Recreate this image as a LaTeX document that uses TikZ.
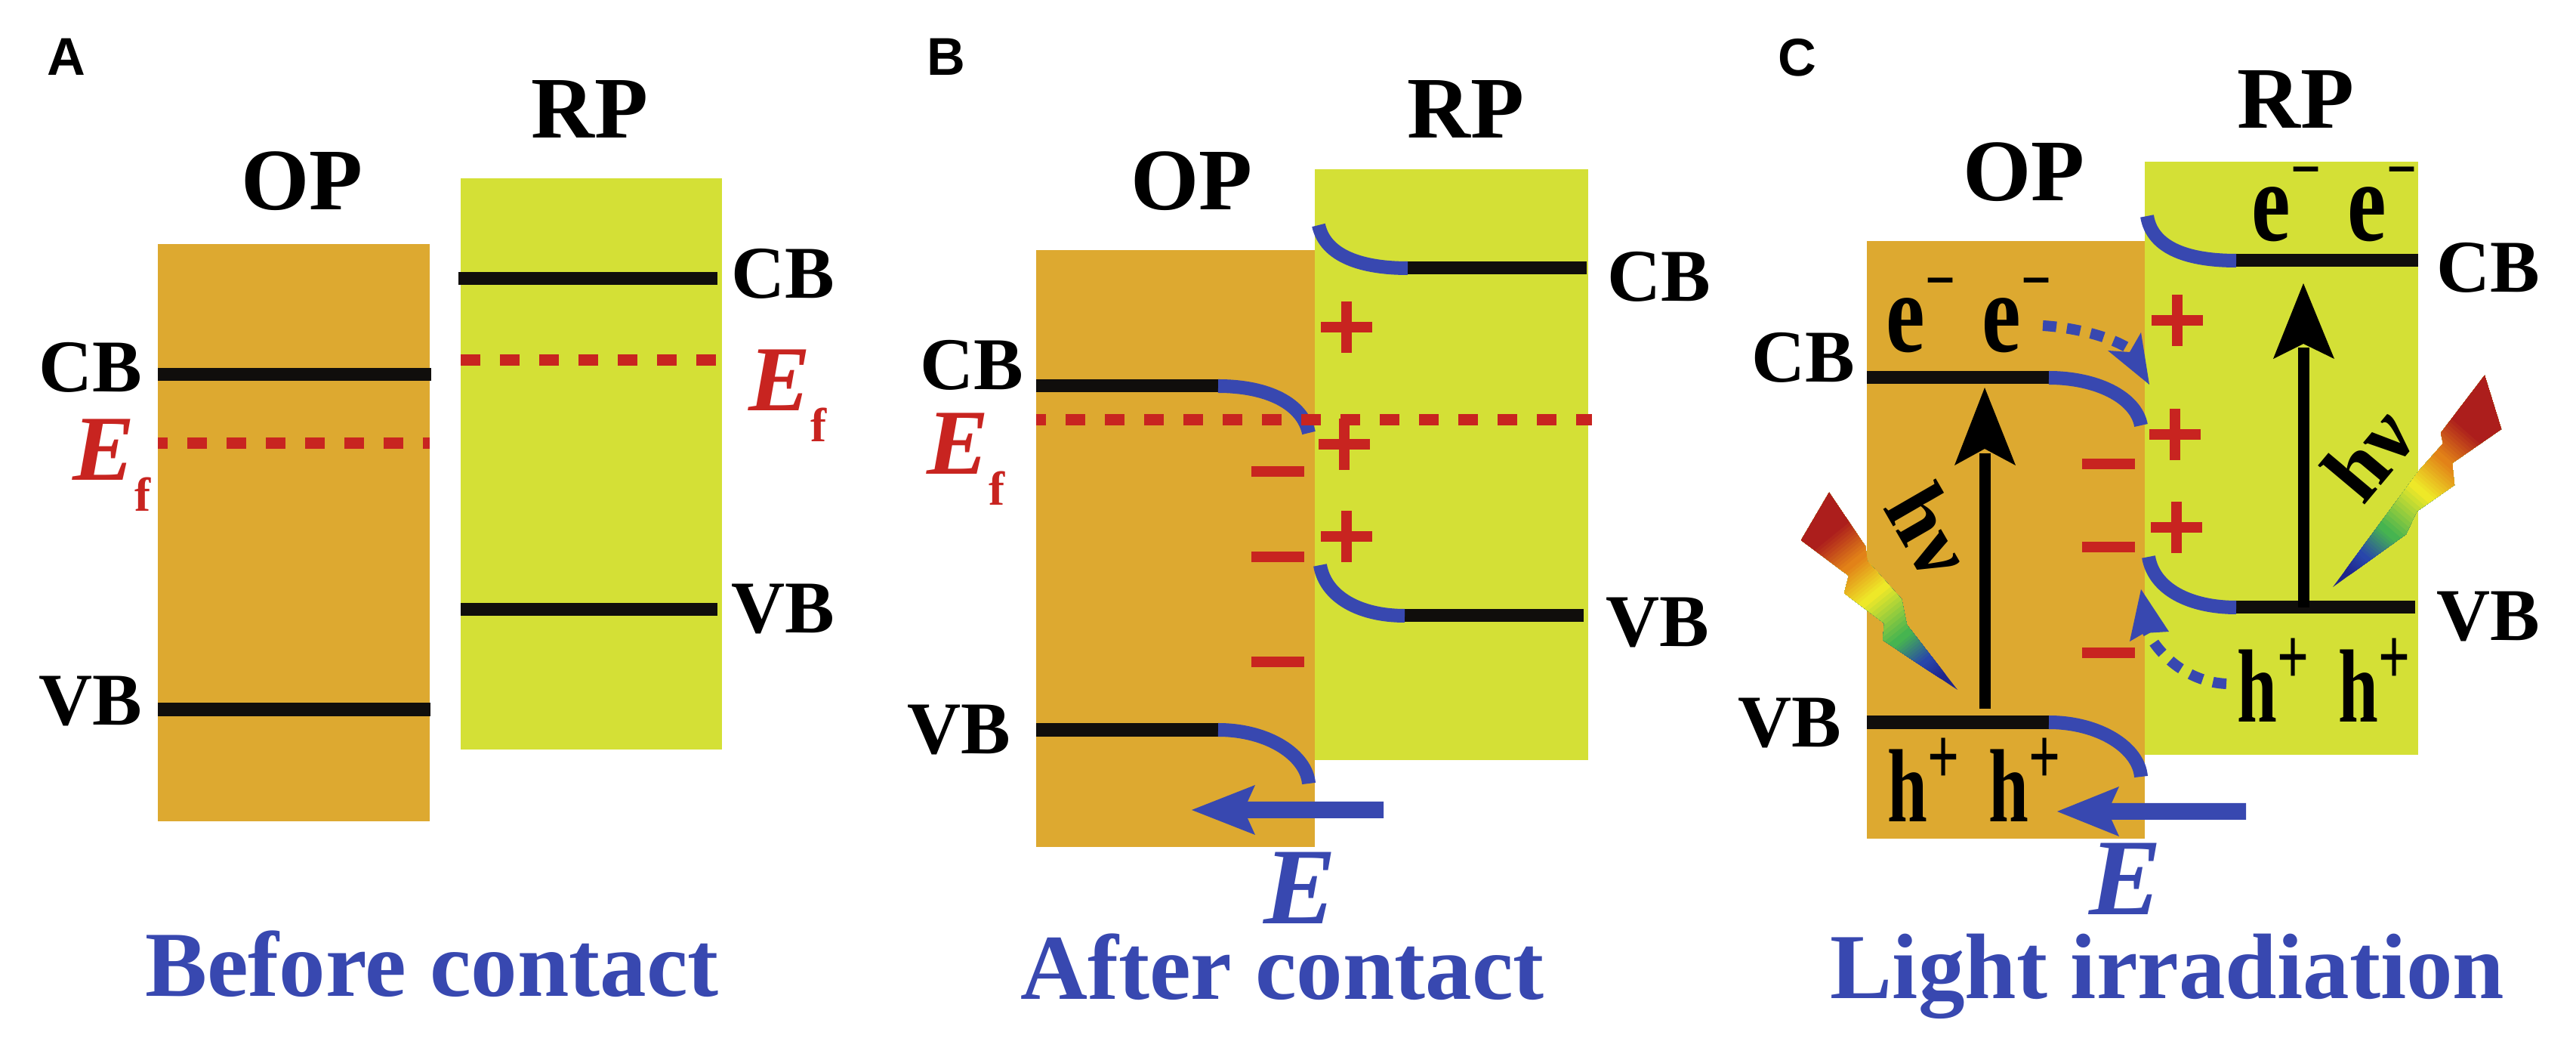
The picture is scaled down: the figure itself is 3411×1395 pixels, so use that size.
\documentclass[tikz,border=0pt]{standalone}
\usepackage{fontspec}
\setmainfont{Liberation Serif}
\newfontfamily\panelfont{Liberation Sans}
\definecolor{opc}{RGB}{221,169,48}
\definecolor{rpc}{RGB}{212,224,54}
\definecolor{bandblue}{RGB}{56,72,176}
\definecolor{chargered}{RGB}{200,36,32}
\definecolor{nearblack}{RGB}{16,14,12}
\definecolor{bnavy}{RGB}{30,36,140}
\definecolor{bblue}{RGB}{40,70,170}
\definecolor{bgreen}{RGB}{70,180,80}
\definecolor{byellow}{RGB}{238,232,40}
\definecolor{borange}{RGB}{226,130,24}
\definecolor{bred}{RGB}{172,30,28}
\newcommand{\fs}[1]{\fontsize{#1}{#1}\selectfont}
\newcommand{\Ef}{\fs{35}\textit{E}\raisebox{-11.5pt}{\fs{18}f}}
\newcommand{\eminus}{e\raisebox{14pt}{\fs{20}−}}
\newcommand{\hplus}{h\raisebox{10pt}{\fs{21}+}}
\tikzset{
  x=0.01cm,y=-0.01cm,
  every node/.style={inner sep=0pt,outer sep=0pt,anchor=base,font=\bfseries},
  oprect/.style={fill=opc,draw=none},
  rprect/.style={fill=rpc,draw=none},
  bandlevel/.style={draw=nearblack,line width=0.17cm},
  bandcurve/.style={draw=bandblue,line width=0.18cm},
  fermi/.style={draw=chargered,line width=0.15cm,dash pattern=on 0.26cm off 0.26cm},
  titletext/.style={font=\bfseries\fs{33},text=black},
  bandtext/.style={font=\bfseries\fs{28},text=black},
  fermilabel/.style={text=chargered,anchor=base west},
  captiontext/.style={font=\bfseries\fs{35},text=bandblue},
  fieldlabel/.style={font=\bfseries\itshape\fs{41},text=bandblue},
  paneltext/.style={font=\panelfont\bfseries\fs{20},text=black},
  carrierE/.style={font=\bfseries\fs{33},yscale=1.3,text=black},
  carrierH/.style={font=\bfseries\fs{27},yscale=1.45,text=black},
  hnu/.style={font=\bfseries\fs{33},text=black,anchor=center},
  chargebar/.style={fill=chargered,draw=none},
  fieldarrow/.style={fill=bandblue,draw=none},
  photonline/.style={draw=black,line width=0.15cm},
  photontip/.style={fill=black,draw=none},
  dotflow/.style={draw=bandblue,line width=0.14cm,dash pattern=on 0.18cm off 0.14cm},
}
\newcommand{\mbar}[2]{\fill[chargebar] (#1-35,#2-7) rectangle (#1+35,#2+7);}
\newcommand{\pbar}[2]{\fill[chargebar] (#1-34,#2-7) rectangle (#1+34,#2+7);\fill[chargebar] (#1-7,#2-34) rectangle (#1+7,#2+34);}
% one colour segment of a light bolt: colour A, colour B, start and end (fractions), bolt length in cm
\newcommand{\boltseg}[5]{%
  \foreach \k in {0,...,11}{%
    \pgfmathsetmacro\sa{(#3+(#4-#3)*\k/12)*#5}%
    \pgfmathsetmacro\mixv{100-100*\k/11}%
    \fill[color={#1!\mixv!#2}] (-2cm,\sa cm) rectangle (2cm,#5 cm+0.5cm);
  }}
\newcommand{\boltfill}[1]{%
  \fill[bnavy] (-2cm,-0.5cm) rectangle (2cm,#1 cm+0.5cm);
  \boltseg{bnavy}{bblue}{0.08}{0.18}{#1}
  \boltseg{bblue}{bgreen}{0.18}{0.32}{#1}
  \boltseg{bgreen}{byellow}{0.32}{0.54}{#1}
  \boltseg{byellow}{borange}{0.54}{0.70}{#1}
  \boltseg{borange}{bred}{0.70}{0.86}{#1}
}
\begin{document}
\begin{tikzpicture}
\useasboundingbox (0,0) rectangle (3411,1395);
\fill[white] (0,0) rectangle (3411,1395);

% ---------- Panel A
\fill[oprect] (209,323) rectangle (569,1087);
\fill[rprect] (610,236) rectangle (956,992);
\draw[bandlevel] (209,496) -- (571,496);
\draw[bandlevel] (209,939) -- (570,939);
\draw[bandlevel] (607,369) -- (950,369);
\draw[bandlevel] (610,807) -- (950,807);
\draw[fermi,dash phase=0.13cm] (209,587) -- (569,587);
\draw[fermi] (610,477) -- (952,477);
\node[paneltext] (pa) at (88,100) {A};
\node[titletext] (aop) at (400,278) {OP};
\node[titletext] (arp) at (781,183) {RP};
\node[bandtext] (acbl) at (120,519) {CB};
\node[bandtext] (avbl) at (120,960) {VB};
\node[bandtext] (acbr) at (1037,395) {CB};
\node[bandtext] (avbr) at (1037,838) {VB};
\node[fermilabel] (aefl) at (96,636) {\Ef};
\node[fermilabel] (aefr) at (991,544) {\Ef};
\node[captiontext] (acap) at (572,1319) {Before contact};

% ---------- Panel B
\fill[oprect] (1372,331) rectangle (1741,1121);
\fill[rprect] (1741,224) rectangle (2103,1006);
\draw[bandlevel] (1372,511) -- (1613,511);
\draw[bandcurve] (1613,511) .. controls (1680,511) and (1725,535) .. (1733,573);
\draw[bandlevel] (1864,355) -- (2101,355);
\draw[bandcurve] (1864,355) .. controls (1805,355) and (1755,340) .. (1746,298);
\draw[bandlevel] (1372,966) -- (1613,966);
\draw[bandcurve] (1613,966) .. controls (1680,966) and (1730,1000) .. (1733,1037);
\draw[bandlevel] (1860,815) -- (2097,815);
\draw[bandcurve] (1860,815) .. controls (1800,815) and (1755,790) .. (1748,748);
\draw[fermi,dash phase=0.13cm] (1372,556) -- (2108,556);
\pbar{1783}{433}
\pbar{1780}{588}
\pbar{1783}{710}
\mbar{1692}{624}
\mbar{1692}{737}
\mbar{1692}{876}
\fill[fieldarrow] (1578,1072) -- (1662,1039) -- (1652,1061) -- (1832,1061) -- (1832,1083) -- (1652,1083) -- (1662,1105) -- cycle;
\node[paneltext] (pb) at (1253,100) {B};
\node[titletext] (bop) at (1578,278) {OP};
\node[titletext] (brp) at (1941,183) {RP};
\node[bandtext] (bcbl) at (1287,516) {CB};
\node[bandtext] (bvbl) at (1270,998) {VB};
\node[bandtext] (bcbr) at (2197,399) {CB};
\node[bandtext] (bvbr) at (2195,856) {VB};
\node[fermilabel] (befl) at (1227,628) {\Ef};
\node[fieldlabel] (bfield) at (1722,1223) {E};
\node[captiontext] (bcap) at (1698,1323) {After contact};

% ---------- Panel C
\fill[oprect] (2472,319) rectangle (2840,1110);
\fill[rprect] (2840,214) rectangle (3202,999);
% light bolts
\begin{scope}
\clip (3089,777) -- (3203,623) -- (3235,587) -- (3232,573) -- (3290,497) -- (3312,568) -- (3247,613) -- (3250,642) -- (3200,677) -- (3186,707) -- cycle;
\begin{scope}[shift={(3089,777)},rotate=-41]
\boltfill{3.2}
\end{scope}
\end{scope}
\begin{scope}
\clip (2592,913) -- (2525,827) -- (2518,793) -- (2473,743) -- (2470,723) -- (2422,652) -- (2385,715) -- (2448,762) -- (2442,785) -- (2495,825) -- (2493,847) -- (2527,870) -- cycle;
\begin{scope}[shift={(2592,913)},rotate=39]
\boltfill{3.1}
\end{scope}
\end{scope}
\draw[bandlevel] (2472,500) -- (2713,500);
\draw[bandcurve] (2713,500) .. controls (2775,500) and (2828,525) .. (2835,563);
\draw[bandlevel] (2961,345) -- (3202,345);
\draw[bandcurve] (2961,345) .. controls (2900,345) and (2850,330) .. (2843,286);
\draw[bandlevel] (2472,956) -- (2713,956);
\draw[bandcurve] (2713,956) .. controls (2780,956) and (2832,990) .. (2835,1028);
\draw[bandlevel] (2961,804) -- (3198,804);
\draw[bandcurve] (2961,804) .. controls (2900,804) and (2852,780) .. (2845,737);
% photon arrows
\draw[photonline] (2628,600) -- (2628,938);
\fill[photontip] (2628,513) -- (2669,616) -- (2628,594) -- (2588,616) -- cycle;
\draw[photonline] (3050,460) -- (3050,804);
\fill[photontip] (3050,375) -- (3091,475) -- (3050,455) -- (3010,475) -- cycle;
\pbar{2883}{424}
\pbar{2880}{575}
\pbar{2882}{698}
\mbar{2792}{614}
\mbar{2792}{724}
\mbar{2792}{864}
% dotted carrier flow
\draw[dotflow] (2705,431) .. controls (2740,433) and (2790,443) .. (2820,462);
\fill[fieldarrow] (2846,509) -- (2791,464) -- (2820,466) -- (2835,440) -- cycle;
\draw[dotflow] (2948,905) .. controls (2900,903) and (2860,870) .. (2843,835);
\fill[fieldarrow] (2835,780) -- (2872,836) -- (2839,838) -- (2820,849) -- cycle;
\fill[fieldarrow] (2724,1074) -- (2806,1041) -- (2796,1063) -- (2974,1063) -- (2974,1085) -- (2796,1085) -- (2806,1107) -- cycle;
\node[hnu,rotate=50] (chvr) at (3136,600) {hν};
\node[hnu,rotate=-60] (chvl) at (2556,702) {hν};
\node[paneltext] (pc) at (2380,101) {C};
\node[titletext] (cop) at (2680,266) {OP};
\node[titletext] (crp) at (3040,170) {RP};
\node[bandtext] (ccbl) at (2388,506) {CB};
\node[bandtext] (cvbl) at (2370,989) {VB};
\node[bandtext] (ccbr) at (3295,387) {CB};
\node[bandtext] (cvbr) at (3295,848) {VB};
\node[carrierE] (cel) at (2607,466) {\eminus\hspace{10pt}\eminus};
\node[carrierE] (cer) at (3091,319) {\eminus\hspace{10pt}\eminus};
\node[carrierH] (chl) at (2614,1088) {\hplus\hspace{11pt}\hplus};
\node[carrierH] (chr) at (3077,956) {\hplus\hspace{11pt}\hplus};
\node[fieldlabel] (cfield) at (2815,1211) {E};
\node[captiontext] (ccap) at (2870,1322) {Light irradiation};
\end{tikzpicture}
\end{document}
